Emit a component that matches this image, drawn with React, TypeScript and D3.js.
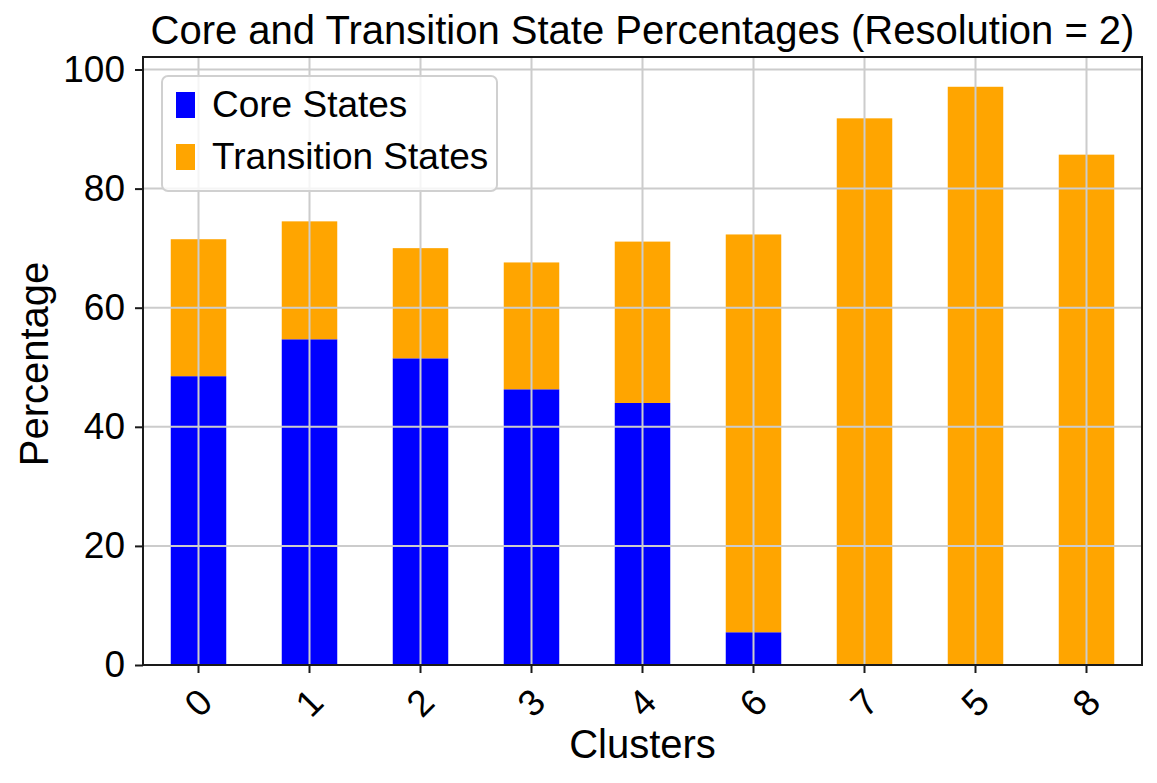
import React, { useEffect, useRef } from 'react';
import * as d3 from 'd3';

const clusters = ['0', '1', '2', '3', '4', '6', '7', '5', '8'];
const coreStates = [48.5, 54.7, 51.5, 46.3, 44.0, 5.5, 0, 0, 0];
const transitionStates = [23.0, 19.8, 18.5, 21.3, 27.1, 66.8, 91.8, 97.1, 85.7];
const yTicks = [0, 20, 40, 60, 80, 100];

const App = () => {
  const svgRef = useRef<SVGSVGElement | null>(null);

  useEffect(() => {
    const width = 1157;
    const height = 783;
    const marginTop = 57;
    const marginRight = 15;
    const marginBottom = 118;
    const marginLeft = 143;
    const font = 'Liberation Sans, Arial, sans-serif';
    const tickFont = 37;
    const labelFont = 40;

    const svg = d3.select(svgRef.current)
      .attr('width', width)
      .attr('height', height)
      .attr('viewBox', [0, 0, width, height].join(' '))
      .style('font-family', font);
    svg.selectAll('*').remove();

    const x = d3.scaleBand()
      .domain(clusters)
      .range([marginLeft, width - marginRight])
      .paddingInner(0.5)
      .paddingOuter(0.25);

    const y = d3.scaleLinear()
      .domain([0, 102.1])
      .range([height - marginBottom, marginTop]);

    const rows = clusters.map((c, i) => ({ c, core: coreStates[i], trans: transitionStates[i] }));

    // bars
    svg.append('g')
      .selectAll('rect')
      .data(rows)
      .join('rect')
      .attr('x', d => x(d.c)!)
      .attr('width', x.bandwidth())
      .attr('y', d => y(d.core))
      .attr('height', d => y(0) - y(d.core))
      .attr('fill', '#0000ff');

    svg.append('g')
      .selectAll('rect')
      .data(rows)
      .join('rect')
      .attr('x', d => x(d.c)!)
      .attr('width', x.bandwidth())
      .attr('y', d => y(d.core + d.trans))
      .attr('height', d => y(d.core) - y(d.core + d.trans))
      .attr('fill', '#ffa500');

    // grid on top of bars
    const grid = svg.append('g').attr('stroke', '#cccccc').attr('stroke-width', 2);
    grid.selectAll('.gy')
      .data(yTicks)
      .join('line')
      .attr('x1', marginLeft)
      .attr('x2', width - marginRight)
      .attr('y1', d => y(d))
      .attr('y2', d => y(d));
    grid.selectAll('.gx')
      .data(clusters)
      .join('line')
      .attr('x1', d => x(d)! + x.bandwidth() / 2)
      .attr('x2', d => x(d)! + x.bandwidth() / 2)
      .attr('y1', marginTop)
      .attr('y2', height - marginBottom);

    // axes
    const xAxis = svg.append('g')
      .attr('transform', `translate(0,${height - marginBottom})`)
      .call(d3.axisBottom(x).tickSizeInner(8).tickSizeOuter(0).tickPadding(4));
    xAxis.select('.domain').remove();
    xAxis.selectAll('line').attr('stroke', '#1a1a1a').attr('stroke-width', 2);
    xAxis.selectAll('text')
      .attr('font-size', tickFont)
      .attr('font-family', font)
      .attr('fill', '#000')
      .attr('text-anchor', 'middle')
      .attr('dy', null)
      .attr('y', null)
      .attr('dominant-baseline', 'central')
      .attr('transform', 'translate(0,38) rotate(-45)');

    const yAxis = svg.append('g')
      .attr('transform', `translate(${marginLeft},0)`)
      .call(d3.axisLeft(y).tickValues(yTicks).tickFormat(d3.format('d')).tickSizeInner(8).tickSizeOuter(0).tickPadding(10));
    yAxis.select('.domain').remove();
    yAxis.selectAll('line').attr('stroke', '#1a1a1a').attr('stroke-width', 2);
    yAxis.selectAll('text').attr('font-size', tickFont).attr('font-family', font).attr('fill', '#000');

    // frame
    svg.append('rect')
      .attr('x', marginLeft)
      .attr('y', marginTop)
      .attr('width', width - marginLeft - marginRight)
      .attr('height', height - marginTop - marginBottom)
      .attr('fill', 'none')
      .attr('stroke', '#1a1a1a')
      .attr('stroke-width', 2);

    // title and labels
    svg.append('text')
      .attr('x', (marginLeft + width - marginRight) / 2)
      .attr('y', 44)
      .attr('text-anchor', 'middle')
      .attr('font-size', labelFont)
      .text('Core and Transition State Percentages (Resolution = 2)');

    svg.append('text')
      .attr('x', (marginLeft + width - marginRight) / 2)
      .attr('y', 758)
      .attr('text-anchor', 'middle')
      .attr('font-size', labelFont)
      .text('Clusters');

    svg.append('text')
      .attr('transform', `translate(48,${(marginTop + height - marginBottom) / 2 + 3}) rotate(-90)`)
      .attr('text-anchor', 'middle')
      .attr('font-size', labelFont)
      .text('Percentage');

    // legend
    const legend = svg.append('g');
    legend.append('rect')
      .attr('x', 162)
      .attr('y', 76)
      .attr('width', 335)
      .attr('height', 115)
      .attr('rx', 6)
      .attr('fill', 'rgba(255,255,255,0.8)')
      .attr('stroke', '#d0d0d0')
      .attr('stroke-width', 2);
    const items = [
      { label: 'Core States', color: '#0000ff' },
      { label: 'Transition States', color: '#ffa500' },
    ];
    items.forEach((it, i) => {
      legend.append('rect')
        .attr('x', 176)
        .attr('y', 92 + i * 52)
        .attr('width', 19)
        .attr('height', 26)
        .attr('fill', it.color);
      legend.append('text')
        .attr('x', 212)
        .attr('y', 117 + i * 52)
        .attr('font-size', tickFont)
        .text(it.label);
    });
  }, []);

  return (
    <div>
      <svg ref={svgRef} style={{ display: 'block', margin: '-8px' }}></svg>
    </div>
  );
};

export default App;
